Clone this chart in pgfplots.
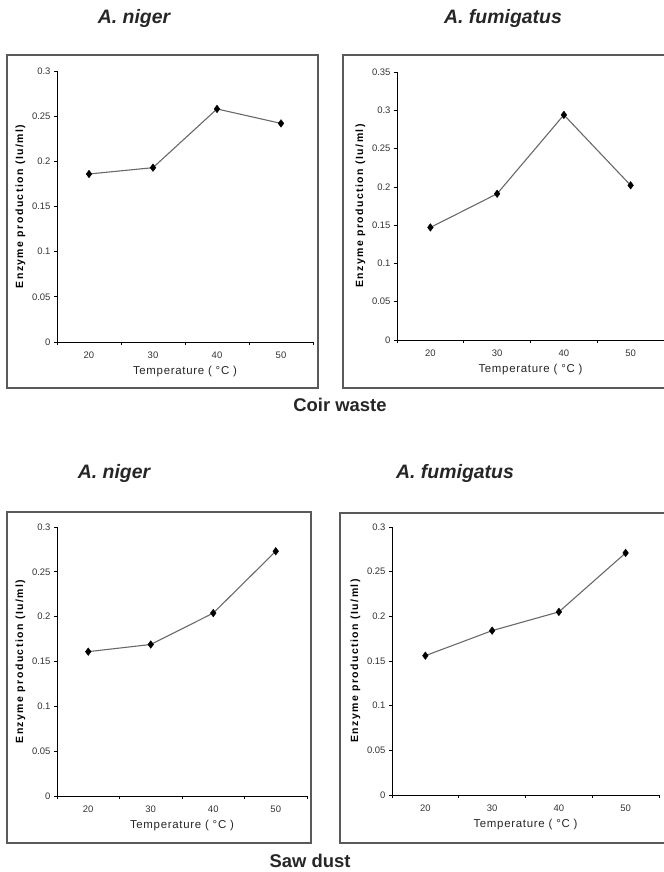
\documentclass[border=0pt]{standalone}
\usepackage{fontspec}
\setmainfont{Liberation Sans}
\usepackage{pgfplots}
\pgfplotsset{compat=1.18}
\definecolor{lineg}{RGB}{105,105,105}
\definecolor{frameg}{RGB}{90,90,90}
\pgfplotsset{
 panel/.style={
  scale only axis,
  axis x line*=bottom, axis y line*=left,
  xmin=0.5, xmax=4.5, ymin=0,
  xtick={1,2,3,4}, xticklabels={20,30,40,50},
  major x tick style={draw=none},
  minor xtick={0.5,1.5,2.5,3.5,4.5},
  tick align=outside,
  major tick length=3bp, minor tick length=3bp,
  tick style={black, line width=0.7bp},
  axis line style={black, line width=0.8bp},
  ticklabel style={font=\fontsize{9.5}{9.5}\selectfont, text=black!80},
  xticklabel style={yshift=-3bp},
  /pgf/number format/assume math mode=true,
  yticklabel style={/pgf/number format/fixed, /pgf/number format/precision=2},
  ytick distance=0.05,
  xlabel={Temperature ( °C )},
  xlabel style={font=\fontsize{11.5}{11.5}\selectfont\addfontfeature{LetterSpace=6}, text=black!85, yshift=-1bp},
  ylabel={Enzyme production (Iu/ml)},
  ylabel style={font=\fontsize{10.5}{10.5}\selectfont\bfseries\addfontfeature{LetterSpace=14}, yshift=0bp},
 },
 ser/.style={color=lineg, line width=1.1bp, mark=diamond*, mark size=3.8bp, mark options={black, fill=black, line width=0.4bp}},
}
\begin{document}
\begin{tikzpicture}[x=1bp,y=1bp]
\path[use as bounding box] (0,0) rectangle (664,-872);
% frames
\draw[frameg, line width=1.2bp] (7,-55) rectangle (318,-388);
\draw[frameg, line width=1.2bp] (343,-55) rectangle (668,-388);
\draw[frameg, line width=1.2bp] (7,-512) rectangle (311,-843);
\draw[frameg, line width=1.2bp] (340,-513) rectangle (668,-843);
% titles
\node[font=\fontsize{19.5}{19.5}\selectfont\bfseries\itshape, text=black!85] at (134,-18) {A. niger};
\node[font=\fontsize{19.5}{19.5}\selectfont\bfseries\itshape, text=black!85] at (503,-18) {A. fumigatus};
\node[font=\fontsize{19.5}{19.5}\selectfont\bfseries\itshape, text=black!85] at (114,-473) {A. niger};
\node[font=\fontsize{19.5}{19.5}\selectfont\bfseries\itshape, text=black!85] at (455,-473) {A. fumigatus};
\node[font=\fontsize{18.5}{18.5}\selectfont\bfseries, text=black!85] at (340,-405) {Coir waste};
\node[font=\fontsize{18.5}{18.5}\selectfont\bfseries, text=black!85] at (310,-861) {Saw dust};
% panel 1
\begin{axis}[panel, at={(57bp,-342bp)}, anchor=south west, width=256bp, height=271bp, ymax=0.3]
\addplot[ser] coordinates {(1,0.186) (2,0.193) (3,0.258) (4,0.242)};
\end{axis}
% panel 2
\begin{axis}[panel, at={(397bp,-340bp)}, anchor=south west, width=267bp, height=268bp, ymax=0.35]
\addplot[ser] coordinates {(1,0.147) (2,0.191) (3,0.294) (4,0.202)};
\end{axis}
% panel 3
\begin{axis}[panel, at={(57bp,-796bp)}, anchor=south west, width=250bp, height=269bp, ymax=0.3]
\addplot[ser] coordinates {(1,0.161) (2,0.169) (3,0.204) (4,0.273)};
\end{axis}
% panel 4
\begin{axis}[panel, at={(392bp,-795bp)}, anchor=south west, width=267bp, height=268bp, ymax=0.3]
\addplot[ser] coordinates {(1,0.156) (2,0.184) (3,0.205) (4,0.271)};
\end{axis}
\end{tikzpicture}
\end{document}
